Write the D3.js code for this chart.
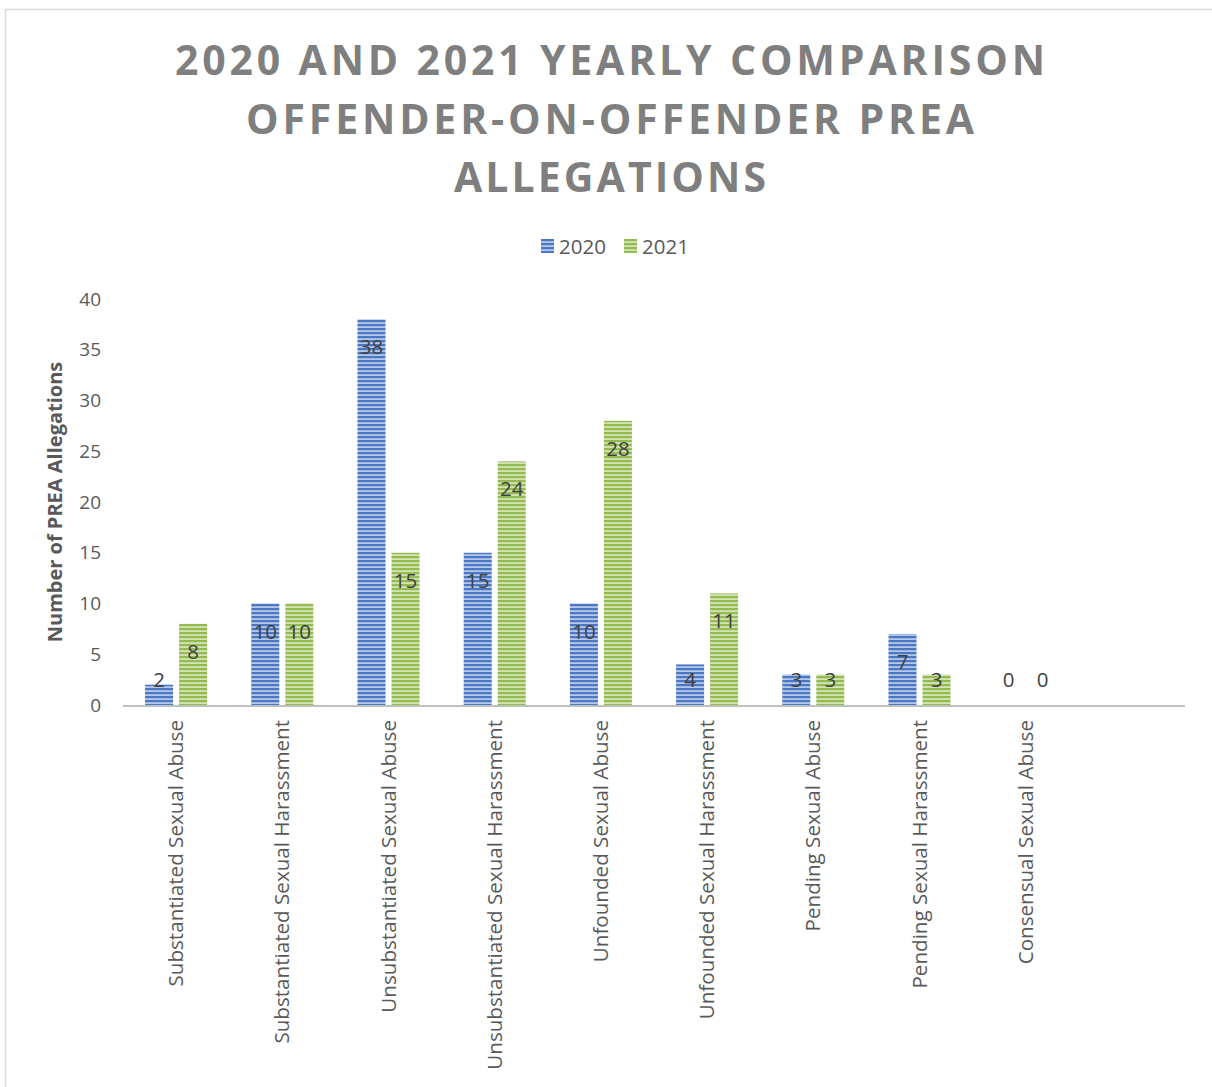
<!DOCTYPE html>
<html>
<head>
<meta charset="utf-8">
<script src="https://cdn.jsdelivr.net/npm/d3@7"></script>
<style>
  body { margin: 0; background: #fff; }
  text { font-family: "Open Sans", "Noto Sans", sans-serif; }
</style>
</head>
<body>
<div id="chart"></div>
<script>
// categories and series values
const categories = [
    "Substantiated Sexual Abuse",
    "Substantiated Sexual Harassment",
    "Unsubstantiated Sexual Abuse",
    "Unsubstantiated Sexual Harassment",
    "Unfounded Sexual Abuse",
    "Unfounded Sexual Harassment",
    "Pending Sexual Abuse",
    "Pending Sexual Harassment",
    "Consensual Sexual Abuse",
    ""
];
const seriesNames = ["2020", "2021"];
const values2020 = [2, 10, 38, 15, 10, 4, 3, 7, 0];
const values2021 = [8, 10, 15, 24, 28, 11, 3, 3, 0];
const yTicks = [0, 5, 10, 15, 20, 25, 30, 35, 40];
const titleLines = ["2020 AND 2021 YEARLY COMPARISON", "OFFENDER-ON-OFFENDER PREA", "ALLEGATIONS"];

const W = 1212, H = 1087;
const plot = { left: 123, right: 1185, top: 299, bottom: 705 };

const svg = d3.select("#chart").append("svg")
    .attr("width", W)
    .attr("height", H);

// stripe patterns for the bars
const defs = svg.append("defs");
const palette = {
    "2020": { light: "#b4c7e7", dark: "#4a78c4" },
    "2021": { light: "#d3e3b5", dark: "#94bb50" }
};
seriesNames.forEach(s => {
    const p = defs.append("pattern")
        .attr("id", "stripe" + s)
        .attr("patternUnits", "userSpaceOnUse")
        .attr("width", 8).attr("height", 4);
    p.append("rect").attr("width", 8).attr("height", 4).attr("fill", palette[s].light);
    p.append("rect").attr("width", 8).attr("height", 2.2).attr("fill", palette[s].dark);
});

// outer frame
svg.append("rect")
    .attr("x", 5.5).attr("y", 9.5)
    .attr("width", W + 10).attr("height", H + 10)
    .attr("fill", "none")
    .attr("stroke", "#d9d9d9")
    .attr("stroke-width", 1.5);

// title
const titleWidths = [870, 728, 312];
svg.selectAll(".title-line")
    .data(titleLines)
    .enter().append("text")
    .attr("class", "title-line")
    .attr("x", 610)
    .attr("y", (d, i) => 75 + i * 58.5)
    .attr("text-anchor", "middle")
    .attr("textLength", (d, i) => titleWidths[i])
    .attr("lengthAdjust", "spacing")
    .style("font-size", "41px")
    .style("font-weight", "bold")
    .style("fill", "#7f7f7f")
    .text(d => d);

// legend
const legend = svg.append("g").attr("transform", "translate(541,239)");
const legendX = [0, 83];
seriesNames.forEach((s, i) => {
    const g = legend.append("g").attr("transform", `translate(${legendX[i]},0)`);
    g.append("rect").attr("width", 13).attr("height", 14).attr("fill", `url(#stripe${s})`);
    g.append("text")
        .attr("x", 18).attr("y", 14.5)
        .style("font-size", "20.5px")
        .style("fill", "#595959")
        .text(s);
});

// scales
const x = d3.scaleBand()
    .domain(categories.map((c, i) => i))
    .range([plot.left, plot.right])
    .paddingInner(0.416)
    .paddingOuter(0.208);

const xSeries = d3.scaleBand()
    .domain(seriesNames)
    .range([0, x.bandwidth()])
    .paddingInner(0.176);

const y = d3.scaleLinear()
    .domain([0, 40])
    .range([plot.bottom, plot.top]);

// y axis labels
const yAxis = svg.append("g")
    .attr("transform", `translate(${plot.left},0)`)
    .call(d3.axisLeft(y).tickValues(yTicks).tickSize(0).tickPadding(22));
yAxis.select(".domain").remove();
yAxis.selectAll("text")
    .style("font-family", "'Open Sans', sans-serif")
    .style("font-size", "19px")
    .style("fill", "#595959");

// y axis title
svg.append("text")
    .attr("transform", `translate(62,${(plot.top + plot.bottom) / 2}) rotate(-90)`)
    .attr("text-anchor", "middle")
    .style("font-size", "20px")
    .style("font-weight", "bold")
    .style("fill", "#595959")
    .text("Number of PREA Allegations");

// bars
const rows = categories.slice(0, values2020.length).map((c, i) => ({
    idx: i,
    vals: [{ s: "2020", v: values2020[i] }, { s: "2021", v: values2021[i] }]
}));

const groups = svg.selectAll(".cat")
    .data(rows)
    .enter().append("g")
    .attr("class", "cat")
    .attr("transform", d => `translate(${x(d.idx)},0)`);

groups.selectAll("rect")
    .data(d => d.vals)
    .enter().append("rect")
    .attr("x", d => xSeries(d.s))
    .attr("y", d => y(d.v))
    .attr("width", xSeries.bandwidth())
    .attr("height", d => plot.bottom - y(d.v))
    .attr("fill", d => `url(#stripe${d.s})`);

groups.selectAll(".bar-label")
    .data(d => d.vals)
    .enter().append("text")
    .attr("class", "bar-label")
    .attr("x", d => xSeries(d.s) + xSeries.bandwidth() / 2)
    .attr("y", d => Math.min(y(d.v) + 28, plot.bottom - 25) + 7)
    .attr("text-anchor", "middle")
    .style("font-size", "20.5px")
    .style("fill", "#404040")
    .text(d => d.v);

// x axis line
svg.append("line")
    .attr("x1", plot.left).attr("x2", plot.right)
    .attr("y1", plot.bottom + 1).attr("y2", plot.bottom + 1)
    .attr("stroke", "#bfbfbf")
    .attr("stroke-width", 2);

// x labels, rotated
svg.selectAll(".x-label")
    .data(categories)
    .enter().append("text")
    .attr("class", "x-label")
    .attr("transform", (d, i) => `translate(${x(i) + x.bandwidth() / 2 + 7},${plot.bottom + 15}) rotate(-90)`)
    .attr("text-anchor", "end")
    .style("font-size", "20.6px")
    .style("fill", "#595959")
    .text(d => d);
</script>
</body>
</html>
